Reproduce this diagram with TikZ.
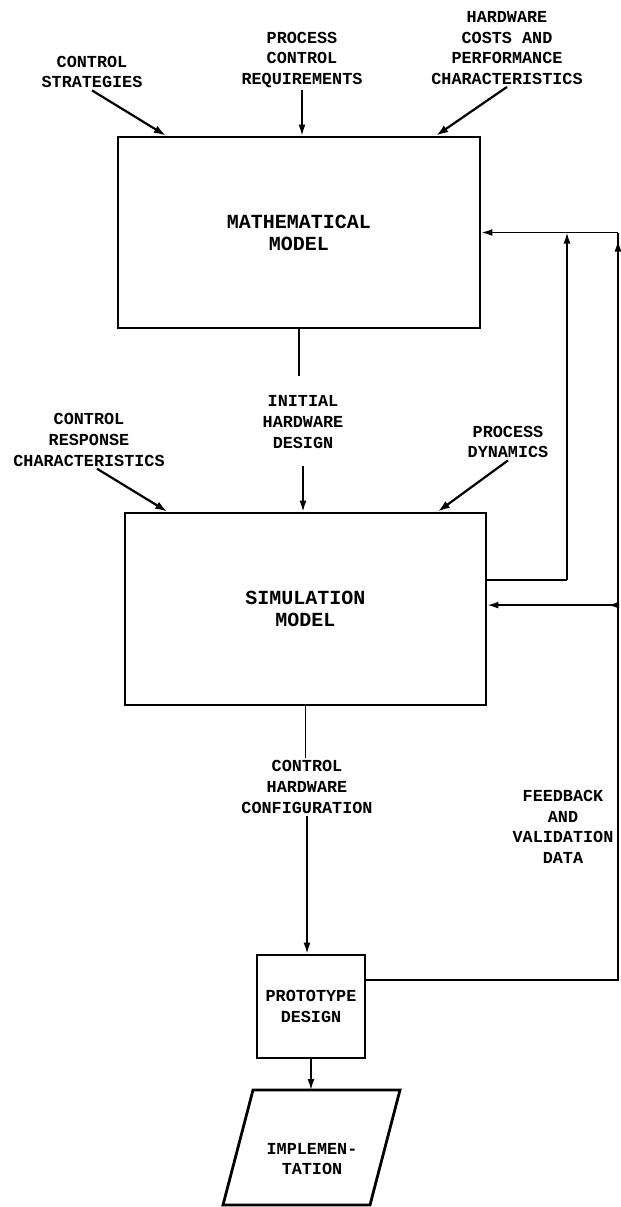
\documentclass[tikz,border=0pt]{standalone}
\usepackage{fontspec}
\setmainfont{Liberation Mono}
\usetikzlibrary{arrows.meta}
\usetikzlibrary{calc,positioning}

\begin{document}
\begin{tikzpicture}[x=0.5pt,y=-0.5pt,
    lbl/.style={align=center,inner sep=1pt,font=\fontsize{8.4}{10.3}\selectfont\bfseries},
    box/.style={draw,line width=1.4pt,align=center,inner sep=0pt},
    boxtxt/.style={font=\fontsize{10}{11}\selectfont\bfseries},
    flow/.style={line width=0.8pt},
    arr/.style={-{Latex[length=5.5pt,width=3.5pt]}},
    diag/.style={line width=1.1pt,-{Latex[length=6pt,width=4pt]}}]
        \useasboundingbox (0,0) rectangle (621,1207);

        % blocks
        \node[box,boxtxt,minimum width=181pt,minimum height=95.5pt] (math) at (299,232.5) {MATHEMATICAL\\MODEL};
        \node[box,boxtxt,minimum width=180.5pt,minimum height=96pt] (sim) at (305.5,609) {SIMULATION\\MODEL};
        \node[box,lbl,inner sep=0pt,minimum width=54pt,minimum height=51.5pt] (proto) at (311,1006.5) {PROTOTYPE\\DESIGN};
        \draw[line width=1.4pt] (253,1090) -- (400,1090) -- (370,1205) -- (223,1205) -- cycle;
        \node[lbl] (impl) at (312,1159) {IMPLEMEN-\\TATION};
        \coordinate (impltop) at (311,1090);

        % inputs
        \node[lbl] (cs) at (92,72) {CONTROL\\STRATEGIES};
        \node[lbl] (pcr) at (302,60) {PROCESS\\CONTROL\\REQUIREMENTS};
        \node[lbl] (hw) at (507,48) {HARDWARE\\COSTS AND\\PERFORMANCE\\CHARACTERISTICS};
        \node[lbl] (crc) at (89,440) {CONTROL\\RESPONSE\\CHARACTERISTICS};
        \node[lbl] (ihd) at (303,422) {INITIAL\\HARDWARE\\DESIGN};
        \node[lbl] (pd) at (508,442) {PROCESS\\DYNAMICS};
        \node[lbl] (chc) at (307,787) {CONTROL\\HARDWARE\\CONFIGURATION};
        \node[lbl] (fvd) at (563,827) {FEEDBACK\\AND\\VALIDATION\\DATA};

        \draw[diag] (cs.south) -- ($(math.north west)!0.135!(math.north east)$);
        \draw[flow,arr] (pcr.south) -- (pcr.south |- math.north);
        \draw[diag] (hw.south) -- ($(math.north west)!0.876!(math.north east)$);
        \draw[flow,shorten >=8.5pt] (math.south) -- (math.south |- ihd.north);
        \draw[flow,arr,shorten <=7.5pt] (ihd.south) -- (ihd.south |- sim.north);
        \draw[diag] ([xshift=4pt]crc.south) -- ($(sim.north west)!0.12!(sim.north east)$);
        \draw[diag] (pd.south) -- ($(sim.north west)!0.864!(sim.north east)$);
        \draw[flow] (sim.south) -- (sim.south |- chc.north);
        \draw[flow,arr] (chc.south) -- (chc.south |- proto.north);
        \draw[flow,arr] (proto.south) -- (impltop);

        % feedback loops
        \coordinate (rail) at (618,0);
        \coordinate (inner) at (567,0);
        \coordinate (fbout) at ($(proto.north east)!0.25!(proto.south east)$);
        \coordinate (simout) at ($(sim.north east)!0.35!(sim.south east)$);
        \coordinate (simin) at ($(sim.north east)!0.48!(sim.south east)$);

        \draw[flow] (fbout) -- (fbout -| rail) -- (math.east -| rail);
        \draw[flow,arr] (math.east -| rail) -- (math.east);
        \draw[flow,arr] ([yshift=-20pt]math.east -| rail) -- ([yshift=-4pt]math.east -| rail);
        \draw[flow] (simout) -- (simout -| inner);
        \draw[flow,arr] (simout -| inner) -- (math.east -| inner);
        \draw[flow,arr] (simin -| rail) -- (simin);
        \draw[flow,arr] (simin -| rail) -- ([xshift=-5pt]simin -| rail);
      \end{tikzpicture}
\end{document}
